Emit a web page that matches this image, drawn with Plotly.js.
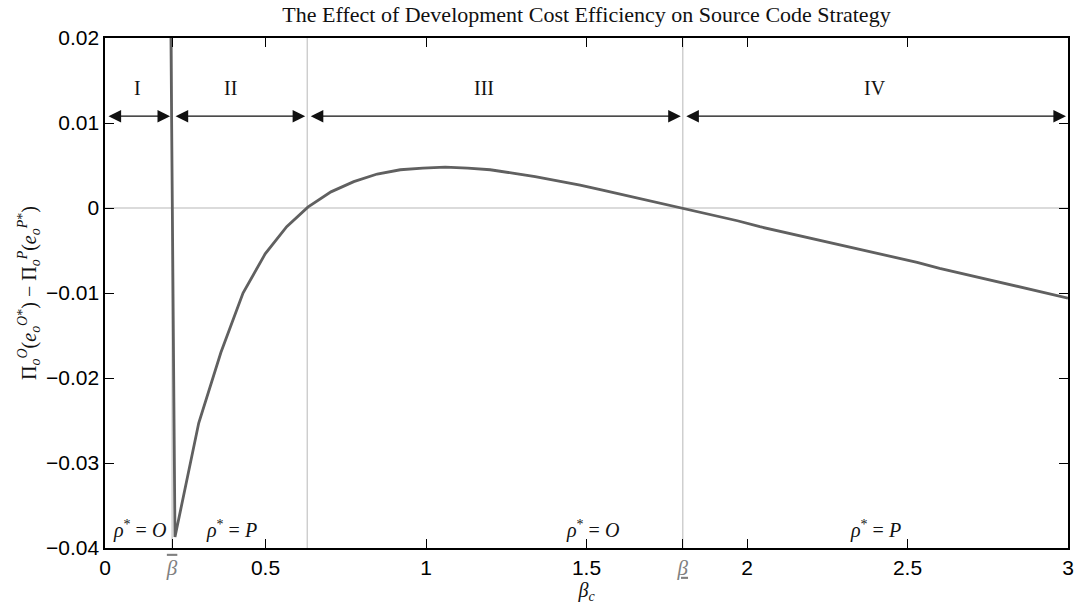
<!DOCTYPE html>
<html>
<head>
<meta charset="utf-8">
<script src="https://cdn.plot.ly/plotly-3.0.1.min.js"></script>
<style>html,body{margin:0;padding:0;background:#fff;}#chart{width:1079px;height:607px;}</style>
</head>
<body>
<div id="chart"></div>
<script>
// Curve samples (beta_c, profit difference)
const betaC = [0.148, 0.218, 0.292, 0.361, 0.430, 0.499, 0.566, 0.632, 0.704, 0.775, 0.848, 0.920, 0.990,
  1.060, 1.130, 1.200, 1.270, 1.340, 1.410, 1.480, 1.550, 1.620, 1.690, 1.760, 1.830, 1.900, 1.970,
  2.040, 2.110, 2.180, 2.250, 2.320, 2.390, 2.460, 2.530, 2.600, 2.670, 2.740, 2.810, 2.880, 2.950, 3.000];
const profitDiff = [0.29, -0.0387, -0.0253, -0.0170, -0.0100, -0.0054, -0.0022, 0.0001, 0.0019, 0.0031, 0.0040, 0.0045, 0.0047,
  0.0048, 0.0047, 0.0045, 0.0041, 0.0037, 0.0032, 0.0027, 0.0021, 0.0015, 0.0009, 0.0003, -0.0003, -0.0009, -0.0015,
  -0.0022, -0.0028, -0.0034, -0.0040, -0.0046, -0.0052, -0.0058, -0.0064, -0.0071, -0.0077, -0.0083, -0.0089, -0.0095, -0.0101, -0.0106];

// Region boundaries
const boundaries = [0, 0.209, 0.63, 1.8, 3];
const regionNames = ["I", "II", "III", "IV"];
const regionNameX = [0.1, 0.39, 1.18, 2.4];
const strategyLabels = ["<i>ρ</i><sup>*</sup> = <i>O</i>", "<i>ρ</i><sup>*</sup> = <i>P</i>",
  "<i>ρ</i><sup>*</sup> = <i>O</i>", "<i>ρ</i><sup>*</sup> = <i>P</i>"];
const strategyX = [0.106, 0.395, 1.52, 2.4];
const arrowY = 0.0108;
const regionNameY = 0.0141;
const strategyY = -0.0378;

// Tick labels
const betaStyle = "font-family:Liberation Serif;font-style:italic;color:#808080;";
const xTickVals = [0, 0.209, 0.5, 1, 1.5, 1.8, 2, 2.5, 3];
const xTickText = ["0", "<span style='" + betaStyle + "text-decoration:overline'>β</span>", "0.5", "1", "1.5",
  "<span style='" + betaStyle + "text-decoration:underline'>β</span>", "2", "2.5", "3"];
const yTickVals = [-0.04, -0.03, -0.02, -0.01, 0, 0.01, 0.02];

const serif = "Liberation Serif, Times New Roman, serif";
const sans = "Liberation Sans, Arial, sans-serif";

const trace = {
  x: betaC, y: profitDiff, type: "scatter", mode: "lines",
  line: {color: "#606060", width: 2.8}, hoverinfo: "skip", showlegend: false
};

const shapes = [];
[boundaries[1], boundaries[2], boundaries[3]].forEach(b => {
  shapes.push({type: "line", xref: "x", yref: "paper", x0: b, x1: b, y0: 0, y1: 1,
    line: {color: "#c4c4c4", width: 1.2}, layer: "below"});
});
shapes.push({type: "line", xref: "paper", yref: "y", x0: 0, x1: 1, y0: 0, y1: 0,
  line: {color: "#b8b8b8", width: 1.2}, layer: "below"});

const annotations = [];
for (let i = 0; i < 4; i++) {
  annotations.push({
    x: boundaries[i + 1], y: arrowY, ax: boundaries[i], ay: arrowY, axref: "x", ayref: "y",
    xref: "x", yref: "y", text: "", showarrow: true, arrowside: "end+start",
    arrowhead: 2, startarrowhead: 2, arrowsize: 2.1, startarrowsize: 2.1, arrowwidth: 1.2,
    arrowcolor: "#111", standoff: 2, startstandoff: 2
  });
  annotations.push({
    x: regionNameX[i], y: regionNameY, xref: "x", yref: "y", text: regionNames[i], showarrow: false,
    font: {family: serif, size: 20, color: "#111"}
  });
  annotations.push({
    x: strategyX[i], y: strategyY, xref: "x", yref: "y", text: strategyLabels[i], showarrow: false,
    font: {family: serif, size: 20, color: "#111"}
  });
}

const layout = {
  width: 1079, height: 607,
  margin: {l: 105, r: 11, t: 38, b: 59},
  paper_bgcolor: "#fff", plot_bgcolor: "#fff",
  title: {text: "The Effect of Development Cost Efficiency on Source Code Strategy",
    font: {family: serif, size: 22, color: "#111"}, x: 0.5, xref: "paper", y: 1 - 14 / 607, yref: "container", yanchor: "middle"},
  xaxis: {
    range: [0, 3], tickvals: xTickVals, ticktext: xTickText, ticks: "inside", ticklen: 9, tickwidth: 1,
    tickcolor: "#000", showline: true, linecolor: "#000", linewidth: 1.6, mirror: "ticks",
    showgrid: false, zeroline: false, tickfont: {family: sans, size: 21, color: "#000"},
    title: {text: "<i>β</i><sub><i>c</i></sub>", font: {family: serif, size: 20, color: "#111"}, standoff: 0}
  },
  yaxis: {
    range: [-0.04, 0.02], tickvals: yTickVals, ticks: "inside", ticklen: 9, tickwidth: 1,
    tickcolor: "#000", showline: true, linecolor: "#000", linewidth: 1.6, mirror: "ticks",
    showgrid: false, zeroline: false, tickfont: {family: sans, size: 21, color: "#000"},
    title: {text: "Π<sub><i>o</i></sub><sup><i>O</i></sup>(<i>e</i><sub><i>o</i></sub><sup><i>O</i>*</sup>) − Π<sub><i>o</i></sub><sup><i>P</i></sup>(<i>e</i><sub><i>o</i></sub><sup><i>P</i>*</sup>)",
      font: {family: serif, size: 20, color: "#111"}, standoff: 4}
  },
  shapes: shapes,
  annotations: annotations
};

Plotly.newPlot("chart", [trace], layout, {displayModeBar: false, staticPlot: true});
</script>
</body>
</html>
